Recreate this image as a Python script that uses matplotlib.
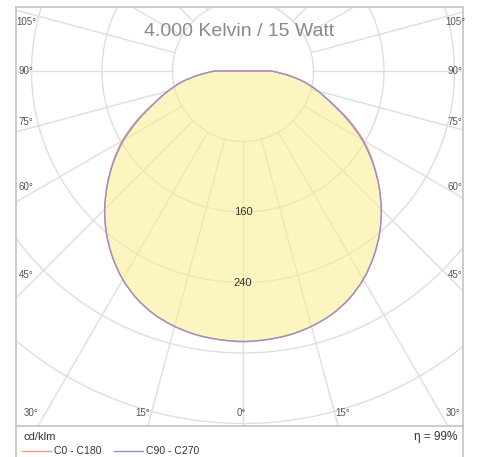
import numpy as np
import matplotlib.pyplot as plt
from matplotlib.lines import Line2D
from matplotlib.path import Path
from matplotlib.patches import PathPatch

# 광도 분포 (cd/klm), 감마 0..90도
gamma = [0, 5, 10, 15, 20, 25, 30, 35, 40, 45, 50, 55, 60, 65, 70, 75, 80, 85, 90]
c0_c180 = [307, 306, 304, 300, 294, 285, 273, 258, 241, 222, 201, 180, 158, 133, 108, 88, 70, 50, 32]
c90_c270 = [307, 306, 304, 300, 294, 285, 273, 258, 241, 222, 201, 179, 156, 131, 107, 88, 70, 50, 32]
rings = [80, 160, 240, 320, 400, 480]
ring_labels = ["160", "240"]
side_labels = ["105°", "90°", "75°", "60°", "45°"]
bottom_labels = ["30°", "15°", "0°", "15°", "30°"]
title = "4.000 Kelvin / 15 Watt"
eta_text = "η = 99%"

W, H = 478, 457
plt.rcParams['font.family'] = ['Liberation Sans', 'DejaVu Sans']
fig = plt.figure(figsize=(W / 100, H / 100), dpi=100)

# 픽셀 배치
box_l, box_r, box_t, box_b = 16, 463, 7, 426
cx, cy = 243, 71
s = 70.5 / 80  # px per cd/klm

ax = fig.add_axes([box_l / W, (H - box_b) / H, (box_r - box_l) / W, (box_b - box_t) / H])
ax.set_xlim((box_l - cx) / s, (box_r - cx) / s)
ax.set_ylim(-(box_b - cy) / s, (cy - box_t) / s)
ax.set_xticks([])
ax.set_yticks([])
for sp in ax.spines.values():
    sp.set_color('#c4c4c4')
    sp.set_linewidth(1.2)

grid_c = '#dedede'
t = np.linspace(0, 2 * np.pi, 500)
for r in rings:
    ax.plot(r * np.cos(t), r * np.sin(t), color=grid_c, lw=1, zorder=1)
for a in range(-180, 181, 15):
    ar = np.radians(a)
    rr = np.array([rings[0], 800])
    ax.plot(rr * np.sin(ar), -rr * np.cos(ar), color=grid_c, lw=1, zorder=1)


# 곡선을 부드럽게 그리기 (catmull-rom -> bezier)
def curve_path(vals):
    g = np.radians(gamma)
    v = np.array(vals, dtype=float)
    xr, yr = v * np.sin(g), -v * np.cos(g)
    px = np.concatenate([-xr[::-1], xr[1:]])
    py = np.concatenate([yr[::-1], yr[1:]])
    pts = np.column_stack([px, py])
    ext = np.vstack([pts[0], pts, pts[-1]])
    verts = [pts[0]]
    codes = [Path.MOVETO]
    for i in range(len(pts) - 1):
        p0, p1, p2, p3 = ext[i], ext[i + 1], ext[i + 2], ext[i + 3]
        verts += [p1 + (p2 - p0) / 6, p2 - (p3 - p1) / 6, p2]
        codes += [Path.CURVE4] * 3
    verts += [(0, 0), pts[0]]
    codes += [Path.LINETO, Path.CLOSEPOLY]
    return Path(verts, codes)


path90 = curve_path(c90_c270)
ax.add_patch(PathPatch(path90, facecolor=(251 / 255, 238 / 255, 140 / 255), alpha=0.55, lw=0, zorder=2))
ax.add_patch(PathPatch(curve_path(c0_c180), fill=False, edgecolor='#f4a070', lw=1, zorder=3))
ax.add_patch(PathPatch(path90, fill=False, edgecolor='#9d8ccc', lw=1, zorder=4))

for lab, r in zip(ring_labels, rings[1:3]):
    ax.text(0, -r, lab, ha='center', va='center', fontsize=8, color='#333333', zorder=5)

fig.text(239 / W, 1 - 32 / H, title, ha='center', va='center', fontsize=14, color='#8a8a8a')

side_y = [22, 71, 122, 187, 275]
for lab, py in zip(side_labels, side_y):
    fig.text(26 / W, 1 - py / H, lab, ha='center', va='center', fontsize=7, color='#555555')
    fig.text(455 / W, 1 - py / H, lab, ha='center', va='center', fontsize=7, color='#555555')
bottom_x = [31, 143, 241, 343, 453]
for lab, px in zip(bottom_labels, bottom_x):
    fig.text(px / W, 1 - 413 / H, lab, ha='center', va='center', fontsize=7, color='#555555')

# 아래 범례 영역
fig.add_artist(Line2D([box_l / W, box_l / W], [0, (H - box_b) / H], color='#c4c4c4', lw=1.2))
fig.add_artist(Line2D([box_r / W, box_r / W], [0, (H - box_b) / H], color='#c4c4c4', lw=1.2))
fig.text(23 / W, 1 - 437 / H, "cd/klm", ha='left', va='center', fontsize=8, color='#333333')
fig.text(457 / W, 1 - 437 / H, eta_text, ha='right', va='center', fontsize=8.5, color='#333333')
fig.add_artist(Line2D([22 / W, 51 / W], [1 - 451 / H] * 2, color='#f4a070', lw=1))
fig.text(54 / W, 1 - 451 / H, "C0 - C180", ha='left', va='center', fontsize=7.5, color='#333333')
fig.add_artist(Line2D([114 / W, 143 / W], [1 - 451 / H] * 2, color='#9d8ccc', lw=1))
fig.text(146 / W, 1 - 451 / H, "C90 - C270", ha='left', va='center', fontsize=7.5, color='#333333')

fig.savefig('out.png', dpi=100)
